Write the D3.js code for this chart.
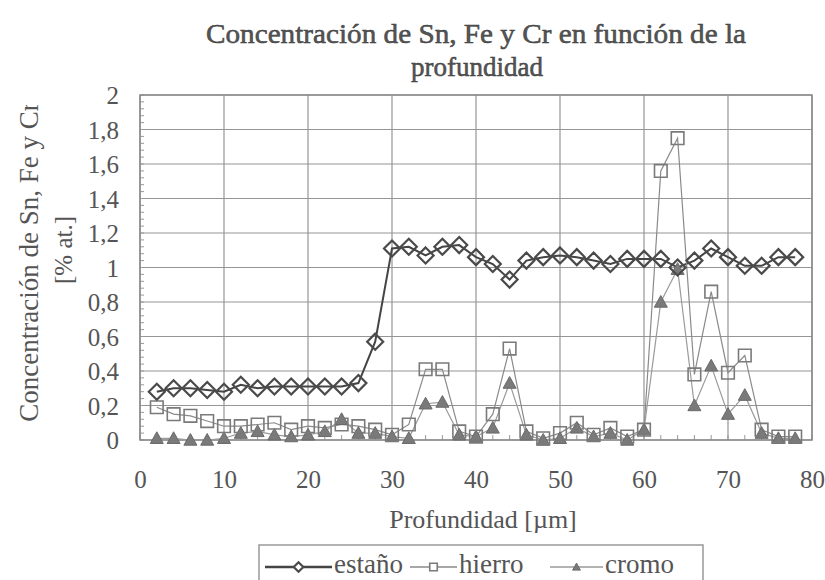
<!DOCTYPE html>
<html>
<head>
<meta charset="utf-8">
<script src="https://cdn.jsdelivr.net/npm/d3@7"></script>
<style>
  body { margin: 0; background: #fff; }
  svg { display: block; }
  svg text { font-family: 'Liberation Serif', 'Times New Roman', Times, 'DejaVu Serif', serif !important; fill: #555; }
</style>
</head>
<body>
<div id="chart"></div>
<script>
// depth in µm
const depth = [2, 4, 6, 8, 10, 12, 14, 16, 18, 20, 22, 24, 26, 28, 30, 32, 34, 36, 38, 40,
  42, 44, 46, 48, 50, 52, 54, 56, 58, 60, 62, 64, 66, 68, 70, 72, 74, 76, 78];

const estano = [0.28, 0.30, 0.30, 0.29, 0.28, 0.32, 0.30, 0.31, 0.31, 0.31, 0.31, 0.31, 0.33, 0.57,
  1.11, 1.12, 1.07, 1.12, 1.13, 1.06, 1.02, 0.93, 1.04, 1.06, 1.07, 1.06, 1.04, 1.02, 1.05, 1.05,
  1.05, 1.00, 1.04, 1.11, 1.06, 1.01, 1.01, 1.06, 1.06];

const hierro = [0.19, 0.15, 0.14, 0.11, 0.08, 0.08, 0.09, 0.10, 0.06, 0.08, 0.07, 0.09, 0.08, 0.06,
  0.03, 0.09, 0.41, 0.41, 0.05, 0.02, 0.15, 0.53, 0.05, 0.01, 0.04, 0.10, 0.03, 0.07, 0.02, 0.06,
  1.56, 1.75, 0.38, 0.86, 0.39, 0.49, 0.06, 0.02, 0.02];

const cromo = [0.01, 0.01, 0.00, 0.00, 0.01, 0.04, 0.05, 0.03, 0.02, 0.03, 0.05, 0.12, 0.04, 0.04,
  0.02, 0.01, 0.21, 0.22, 0.03, 0.02, 0.07, 0.33, 0.03, 0.00, 0.01, 0.07, 0.02, 0.04, 0.00, 0.06,
  0.80, 0.99, 0.20, 0.43, 0.15, 0.26, 0.04, 0.01, 0.01];

const xTicks = [0, 10, 20, 30, 40, 50, 60, 70, 80];
const yTicks = [0, 0.2, 0.4, 0.6, 0.8, 1, 1.2, 1.4, 1.6, 1.8, 2];

const width = 825, height = 580;
const margin = { top: 95, right: 13, bottom: 140, left: 140 };
const plotW = width - margin.left - margin.right;
const plotH = height - margin.top - margin.bottom;
const serif = "'Liberation Serif', 'Times New Roman', Times, 'DejaVu Serif', serif";

const x = d3.scaleLinear().domain([0, 80]).range([0, plotW]);
const y = d3.scaleLinear().domain([0, 2]).range([plotH, 0]);

const es = d3.formatLocale({ decimal: ',', thousands: '.', grouping: [3], currency: ['', ''] });
const fmt = es.format('.1~f');

// marker shapes, centred on 0,0
const shapes = {
  diamond: s => `M0,${-s}L${s},0L0,${s}L${-s},0Z`,
  square: s => `M${-s},${-s}H${s}V${s}H${-s}Z`,
  triangle: s => `M0,${-s}L${s},${s * 0.8}H${-s}Z`
};

const series = [
  { name: 'estaño', values: estano, line: '#444', lineW: 2, shape: 'diamond', size: 8, stroke: '#4a4a4a', strokeW: 2.2, fill: 'none' },
  { name: 'hierro', values: hierro, line: '#8a8a8a', lineW: 1.2, shape: 'square', size: 6.3, stroke: '#7a7a7a', strokeW: 1.6, fill: 'none' },
  { name: 'cromo', values: cromo, line: '#9a9a9a', lineW: 1.2, shape: 'triangle', size: 6.5, stroke: '#6a6a6a', strokeW: 1, fill: '#7a7a7a' }
];

const svg = d3.select('#chart').append('svg')
  .attr('width', width)
  .attr('height', height)
  .attr('font-family', serif);

// title
const title = svg.append('g')
  .attr('text-anchor', 'middle')
  .attr('font-size', 27)
  .style('fill', '#3a3a3a');
title.append('text')
  .attr('x', 476).attr('y', 43)
  .attr('stroke', '#3a3a3a').attr('stroke-width', 0.5)
  .attr('textLength', 540)
  .attr('lengthAdjust', 'spacingAndGlyphs')
  .text('Concentración de Sn, Fe y Cr en función de la');
title.append('text')
  .attr('x', 477).attr('y', 76)
  .attr('stroke', '#3a3a3a').attr('stroke-width', 0.5)
  .text('profundidad');

const g = svg.append('g').attr('transform', `translate(${margin.left},${margin.top})`);

// grid
g.append('g').selectAll('line')
  .data(yTicks)
  .join('line')
  .attr('x1', 0).attr('x2', plotW)
  .attr('y1', d => y(d)).attr('y2', d => y(d))
  .attr('stroke', '#959595').attr('stroke-width', 1.2);
g.append('g').selectAll('line')
  .data(xTicks)
  .join('line')
  .attr('y1', 0).attr('y2', plotH)
  .attr('x1', d => x(d)).attr('x2', d => x(d))
  .attr('stroke', '#959595').attr('stroke-width', 1.2);

// minor ticks
g.append('g').selectAll('line')
  .data(d3.range(0, 2.001, 0.04))
  .join('line')
  .attr('x1', 0).attr('x2', 4)
  .attr('y1', d => y(d)).attr('y2', d => y(d))
  .attr('stroke', '#999');
g.append('g').selectAll('line')
  .data(d3.range(0, 80.01, 2))
  .join('line')
  .attr('y1', plotH).attr('y2', plotH - 5)
  .attr('x1', d => x(d)).attr('x2', d => x(d))
  .attr('stroke', '#999');

g.append('rect')
  .attr('width', plotW).attr('height', plotH)
  .attr('fill', 'none').attr('stroke', '#8a8a8a').attr('stroke-width', 1.5);

// axes labels
const yAxis = d3.axisLeft(y).tickValues(yTicks).tickFormat(fmt).tickSize(0).tickPadding(21);
const yg = g.append('g').call(yAxis).attr('font-family', serif);
yg.select('.domain').remove();
yg.selectAll('text').attr('font-size', 25).attr('dy', '0.35em').style('fill', '#555');

const xAxis = d3.axisBottom(x).tickValues(xTicks).tickFormat(d3.format('d')).tickSize(0).tickPadding(48);
const xg = g.append('g').attr('transform', `translate(0,${plotH})`).call(xAxis).attr('font-family', serif);
xg.select('.domain').remove();
xg.selectAll('text').attr('font-size', 25).attr('dy', 0).style('fill', '#555');

// series
const line = d3.line().x((d, i) => x(depth[i])).y(d => y(d));
series.forEach(s => {
  g.append('path')
    .datum(s.values)
    .attr('d', line)
    .attr('fill', 'none')
    .attr('stroke', s.line)
    .attr('stroke-width', s.lineW);
});
series.slice().reverse().forEach(s => {
  g.append('g').selectAll('path')
    .data(s.values)
    .join('path')
    .attr('transform', (d, i) => `translate(${x(depth[i])},${y(d)})`)
    .attr('d', shapes[s.shape](s.size))
    .attr('fill', s.fill)
    .attr('stroke', s.stroke)
    .attr('stroke-width', s.strokeW);
});

// y title (clipped at the top as in the original)
svg.append('clipPath').attr('id', 'yclip')
  .append('rect').attr('x', 0).attr('y', 105).attr('width', 100).attr('height', 400);
const yt = svg.append('g').attr('clip-path', 'url(#yclip)');
yt.append('text')
  .attr('transform', 'translate(38,262) rotate(-90)')
  .attr('text-anchor', 'middle')
  .attr('font-size', 27)
  .text('Concentración de Sn, Fe y Cr');
svg.append('text')
  .attr('transform', 'translate(72,250) rotate(-90)')
  .attr('text-anchor', 'middle')
  .attr('font-size', 25)
  .text('[% at.]');

// x title
svg.append('text')
  .attr('x', 483).attr('y', 528)
  .attr('text-anchor', 'middle')
  .attr('font-size', 26)
  .text('Profundidad [µm]');

// legend
const legend = svg.append('g');
legend.append('rect')
  .attr('x', 259).attr('y', 545).attr('width', 444).attr('height', 50)
  .attr('fill', '#fff').attr('stroke', '#999').attr('stroke-width', 1.5);
const legendItems = [
  { x: 265, len: 67 },
  { x: 410, len: 47 },
  { x: 550, len: 53 }
];
series.forEach((s, i) => {
  const it = legendItems[i];
  const item = legend.append('g').attr('transform', `translate(${it.x},567)`);
  item.append('line')
    .attr('x1', 0).attr('x2', it.len)
    .attr('stroke', s.line).attr('stroke-width', s.lineW + 0.3);
  item.append('path')
    .attr('transform', `translate(${it.len / 2},0)`)
    .attr('d', shapes[s.shape](s.size * 0.6))
    .attr('fill', s.shape === 'triangle' ? s.fill : '#fff')
    .attr('stroke', s.stroke)
    .attr('stroke-width', s.strokeW);
  item.append('text')
    .attr('x', it.len + 2).attr('y', 6)
    .attr('font-size', 27)
    .text(s.name);
});
</script>
</body>
</html>
